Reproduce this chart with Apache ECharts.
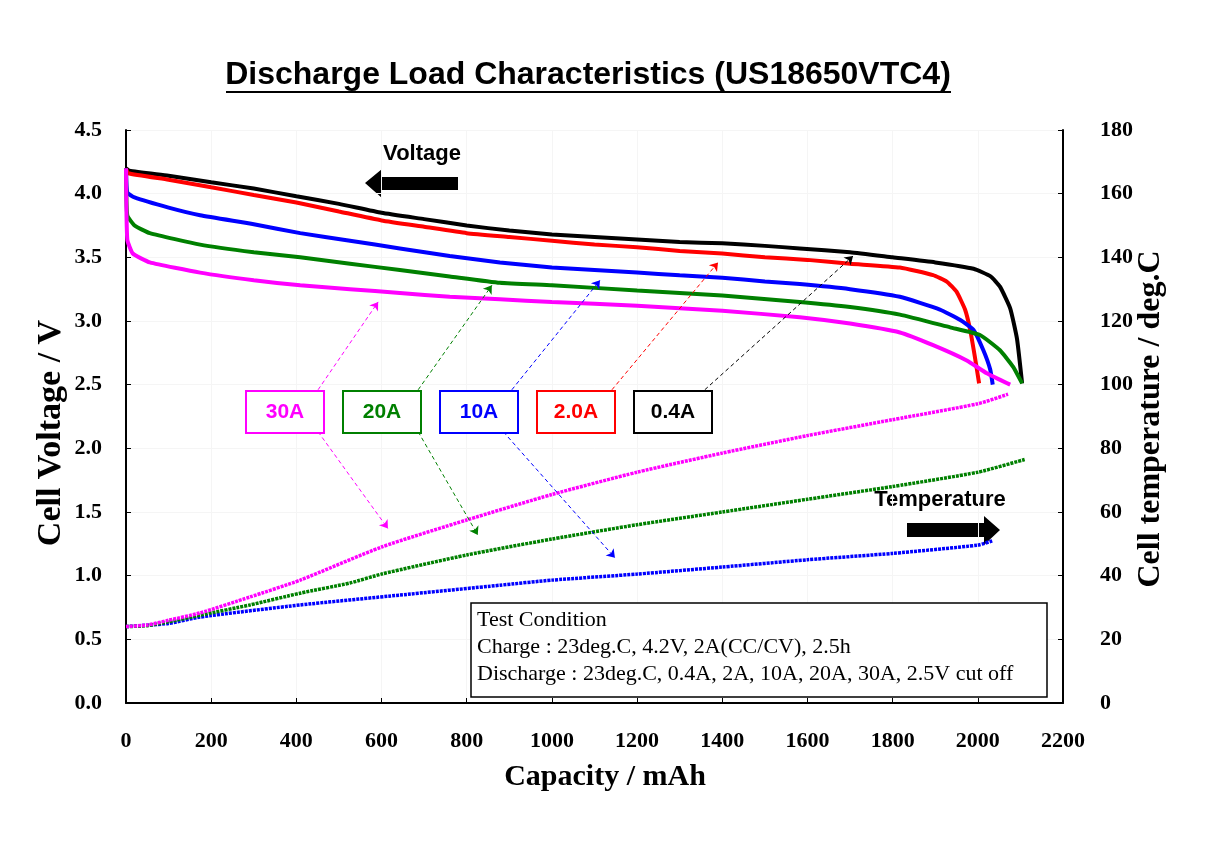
<!DOCTYPE html>
<html>
<head>
<meta charset="utf-8">
<script src="https://cdn.jsdelivr.net/npm/echarts@6/dist/echarts.min.js"></script>
<style>html,body{margin:0;padding:0;background:#fff;}#chart{width:1216px;height:847px;}</style>
</head>
<body>
<div id="chart"></div>
<script>
// ---- Data (capacity mAh, value) ----
const volt04 = [[0,4.20],[8,4.18],[100,4.14],[200,4.09],[300,4.04],[400,3.98],[500,3.92],[600,3.85],[700,3.80],[800,3.75],[900,3.71],[1000,3.68],[1100,3.66],[1200,3.64],[1300,3.62],[1400,3.61],[1500,3.59],[1582,3.57],[1700,3.54],[1800,3.50],[1900,3.46],[1990,3.41],[2030,3.35],[2052,3.27],[2076,3.10],[2092,2.86],[2104,2.51]];
const volt20 = [[0,4.20],[5,4.16],[100,4.11],[200,4.05],[300,3.99],[400,3.93],[500,3.86],[600,3.79],[700,3.74],[800,3.69],[900,3.66],[1000,3.63],[1100,3.60],[1200,3.58],[1300,3.55],[1400,3.53],[1500,3.50],[1600,3.48],[1700,3.45],[1817,3.42],[1895,3.36],[1927,3.31],[1950,3.23],[1970,3.09],[1982,2.93],[1993,2.72],[2003,2.51]];
const volt10A = [[0,4.20],[3,4.01],[20,3.97],[100,3.89],[174,3.83],[300,3.76],[409,3.69],[526,3.63],[643,3.57],[760,3.51],[878,3.46],[1000,3.42],[1100,3.40],[1200,3.38],[1300,3.36],[1400,3.34],[1500,3.31],[1582,3.29],[1700,3.25],[1817,3.19],[1911,3.09],[1958,3.01],[1990,2.93],[2013,2.77],[2029,2.62],[2035,2.50]];
const volt20A = [[0,4.20],[3,3.83],[20,3.75],[56,3.69],[174,3.60],[300,3.54],[409,3.50],[526,3.45],[643,3.40],[760,3.35],[878,3.30],[1000,3.28],[1200,3.24],[1400,3.20],[1582,3.15],[1700,3.11],[1817,3.05],[1935,2.95],[2005,2.89],[2052,2.77],[2083,2.64],[2104,2.51]];
const volt30A = [[0,4.20],[3,3.64],[16,3.53],[56,3.46],[174,3.38],[300,3.32],[409,3.28],[526,3.25],[643,3.22],[760,3.19],[878,3.17],[1000,3.15],[1200,3.12],[1400,3.08],[1582,3.03],[1700,2.98],[1817,2.91],[1895,2.81],[1974,2.69],[2021,2.59],[2076,2.50]];

const temp10A = [[0,24],[100,25],[174,27],[409,30.8],[643,33.9],[878,37],[1000,38.6],[1200,40.5],[1400,42.7],[1600,45],[1800,47],[2000,49.6],[2035,51]];
const temp20A = [[0,24],[50,24.3],[100,25.5],[174,27.6],[291,30.8],[409,34.5],[526,37.7],[600,40.5],[800,46.5],[1000,51.5],[1200,56],[1400,60],[1600,64],[1800,68],[2000,72.5],[2110,76.5]];
const temp30A = [[0,24],[50,24.5],[100,26],[174,28.3],[291,33.3],[409,38.6],[600,49],[800,57.5],[1000,65.5],[1200,72.5],[1400,78.5],[1600,84],[1800,89],[2000,94],[2071,97]];

const xTicks = {min:0, max:2200, interval:200};
const vTicks = {min:0, max:4.5, interval:0.5};
const tTicks = {min:0, max:180, interval:20};

// annotation arrows (start -> end, in mAh / V)
const arrowLines = [
  {c:'#ff00ff', s:[451,2.46], e:[592,3.15]},
  {c:'#ff00ff', s:[451,2.13], e:[615,1.37]},
  {c:'#008000', s:[686,2.46], e:[859,3.28]},
  {c:'#008000', s:[686,2.13], e:[826,1.32]},
  {c:'#0000ff', s:[906,2.46], e:[1113,3.32]},
  {c:'#0000ff', s:[886,2.13], e:[1148,1.14]},
  {c:'#ff0000', s:[1141,2.46], e:[1390,3.46]},
  {c:'#000000', s:[1359,2.46], e:[1707,3.51]}
];
const labelBoxes = [
  {t:'30A', c:'#ff00ff', x:246},
  {t:'20A', c:'#008000', x:343},
  {t:'10A', c:'#0000ff', x:440},
  {t:'2.0A', c:'#ff0000', x:537},
  {t:'0.4A', c:'#000000', x:634}
];

const chart = echarts.init(document.getElementById('chart'), null, {renderer:'canvas'});
const serif = '"Liberation Serif", "Times New Roman", serif';
const sans = '"Liberation Sans", Arial, sans-serif';

function vLine(name, data, color) {
  return {name, type:'line', data, yAxisIndex:0, showSymbol:false, smooth:0.15, z:3,
    lineStyle:{color, width:4}, itemStyle:{color}};
}
function tLine(name, data, color) {
  return {name, type:'line', data, yAxisIndex:1, showSymbol:false, smooth:0.2, z:3,
    lineStyle:{color, width:3.5, type:[3,1]}, itemStyle:{color}};
}

const graphics = [];
// title
graphics.push({type:'text', x:588, y:59, style:{text:'Discharge Load Characteristics (US18650VTC4)', font:'bold 32px ' + sans, fill:'#000', align:'center'}});
graphics.push({type:'line', shape:{x1:226, y1:92, x2:951, y2:92}, style:{stroke:'#000', lineWidth:2}});
// axis titles
graphics.push({type:'text', x:51, y:433, rotation:Math.PI/2, style:{text:'Cell Voltage / V', font:'bold 34px ' + serif, fill:'#000', align:'center', verticalAlign:'middle'}});
graphics.push({type:'text', x:1151, y:419, rotation:Math.PI/2, style:{text:'Cell temperature / deg.C', font:'bold 32px ' + serif, fill:'#000', align:'center', verticalAlign:'middle'}});
graphics.push({type:'text', x:605, y:777, style:{text:'Capacity / mAh', font:'bold 30px ' + serif, fill:'#000', align:'center', verticalAlign:'middle'}});
// Voltage label + arrow
graphics.push({type:'text', x:422, y:154, style:{text:'Voltage', font:'bold 22px ' + sans, fill:'#000', align:'center', verticalAlign:'middle'}});
graphics.push({type:'polygon', shape:{points:[[365,183],[382,169],[382,177],[458,177],[458,190],[382,190],[382,198]]}, style:{fill:'#000'}});
// Temperature label + arrow
graphics.push({type:'text', x:940, y:500, style:{text:'Temperature', font:'bold 22px ' + sans, fill:'#000', align:'center', verticalAlign:'middle'}});
graphics.push({type:'polygon', shape:{points:[[1000,530],[984,516],[984,523],[907,523],[907,537],[984,537],[984,545]]}, style:{fill:'#000'}});
// label boxes
labelBoxes.forEach(b => {
  graphics.push({type:'rect', shape:{x:b.x, y:391, width:78, height:42}, style:{fill:'#fff', stroke:b.c, lineWidth:2}, z:10});
  graphics.push({type:'text', x:b.x+39, y:412, z:11, style:{text:b.t, font:'bold 21px ' + sans, fill:b.c, align:'center', verticalAlign:'middle'}});
});
// test condition box
graphics.push({type:'rect', shape:{x:471, y:603, width:576, height:94}, style:{fill:'#fff', stroke:'#000', lineWidth:1.5}, z:10});
['Test Condition','Charge : 23deg.C, 4.2V, 2A(CC/CV), 2.5h','Discharge : 23deg.C, 0.4A, 2A, 10A, 20A, 30A, 2.5V cut off'].forEach((t,i) => {
  graphics.push({type:'text', x:477, y:620 + i*27, z:11, style:{text:t, font:'22px ' + serif, fill:'#000', verticalAlign:'middle'}});
});

const option = {
  animation:false,
  backgroundColor:'#fff',
  grid:{left:126, right:153, top:130, bottom:144, containLabel:false},
  xAxis:{type:'value', min:xTicks.min, max:xTicks.max, interval:xTicks.interval,
    axisLine:{onZero:false, lineStyle:{color:'#000', width:2}},
    axisTick:{inside:true, length:5, lineStyle:{color:'#000', width:1}},
    axisLabel:{fontFamily:serif, fontWeight:'bold', fontSize:22, color:'#000', margin:27, formatter:v=>String(v)},
    splitLine:{show:true, lineStyle:{color:'#f5f5f5', width:1}}},
  yAxis:[
    {type:'value', min:vTicks.min, max:vTicks.max, interval:vTicks.interval, position:'left',
      axisLine:{show:true, lineStyle:{color:'#000', width:2}},
      axisTick:{show:true, inside:true, length:5, lineStyle:{color:'#000'}},
      axisLabel:{fontFamily:serif, fontWeight:'bold', fontSize:22, color:'#000', margin:24, formatter:v=>v.toFixed(1)},
      splitLine:{show:true, lineStyle:{color:'#f5f5f5', width:1}}},
    {type:'value', min:tTicks.min, max:tTicks.max, interval:tTicks.interval, position:'right',
      axisLine:{show:true, lineStyle:{color:'#000', width:2}},
      axisTick:{show:true, inside:true, length:5, lineStyle:{color:'#000'}},
      axisLabel:{fontFamily:serif, fontWeight:'bold', fontSize:22, color:'#000', margin:37},
      splitLine:{show:false}}
  ],
  series:[
    tLine('T 10A', temp10A, '#0000ff'),
    tLine('T 20A', temp20A, '#008000'),
    tLine('T 30A', temp30A, '#ff00ff'),
    vLine('0.4A', volt04, '#000000'),
    vLine('2.0A', volt20, '#ff0000'),
    vLine('10A', volt10A, '#0000ff'),
    vLine('20A', volt20A, '#008000'),
    vLine('30A', volt30A, '#ff00ff'),
    {type:'lines', coordinateSystem:'cartesian2d', xAxisIndex:0, yAxisIndex:0, z:5,
      symbol:['none','arrow'], symbolSize:8,
      data:arrowLines.map(a => ({coords:[a.s, a.e], lineStyle:{color:a.c}})),
      lineStyle:{width:1, type:[4,3], opacity:1}}
  ],
  graphic:graphics
};
chart.setOption(option);
</script>
</body>
</html>
